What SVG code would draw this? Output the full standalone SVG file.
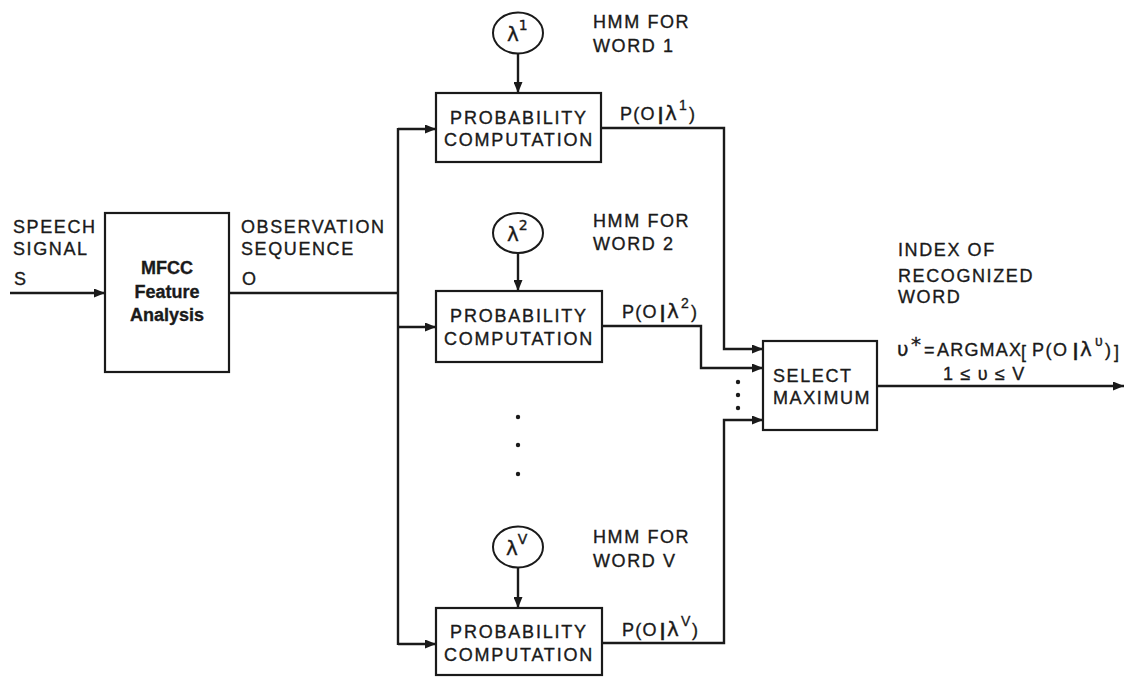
<svg xmlns="http://www.w3.org/2000/svg" width="1125" height="677" viewBox="0 0 1125 677">
  <defs>
    <marker id="arrow" viewBox="0 0 11 9" refX="11" refY="4.5" markerWidth="11" markerHeight="9" markerUnits="userSpaceOnUse" orient="auto">
      <path d="M0,0 L11,4.5 L0,9 z" fill="#1a1a1a"/>
    </marker>
    <style>
      .box { fill: #fff; stroke: #1a1a1a; stroke-width: 2.2; }
      .model { fill: #fff; stroke: #1a1a1a; stroke-width: 2; }
      .wire { fill: none; stroke: #1a1a1a; stroke-width: 2.4; }
      text { stroke: #1a1a1a; stroke-width: 0.35; }
      .lbl { font-family: "Liberation Sans", Arial, sans-serif; font-size: 18px; fill: #1a1a1a; letter-spacing: 1.6px; }
      .boxtxt { font-family: "Liberation Sans", Arial, sans-serif; font-size: 18px; fill: #1a1a1a; letter-spacing: 1.8px; text-anchor: middle; }
      .bold { font-family: "Liberation Sans", Arial, sans-serif; font-size: 18px; font-weight: bold; fill: #1a1a1a; text-anchor: middle; }
      .prob { font-family: "Liberation Sans", Arial, sans-serif; font-size: 18px; fill: #1a1a1a; letter-spacing: 1.2px; }
      .lam { font-family: "DejaVu Sans", "Liberation Sans", sans-serif; font-size: 20px; fill: #1a1a1a; letter-spacing: 0; }
      .sup { font-size: 14px; }
      .dot { fill: #1a1a1a; }
    </style>
  </defs>
  <rect width="1125" height="677" fill="#fff"/>

  <!-- connectors -->
  <g id="connectors">
    <path class="wire" d="M10,293 H105" marker-end="url(#arrow)"/>
    <path class="wire" d="M229,293 H398"/>
    <path class="wire" d="M398,128 V645"/>
    <path class="wire" d="M398,129 H436" marker-end="url(#arrow)"/>
    <path class="wire" d="M398,327 H436" marker-end="url(#arrow)"/>
    <path class="wire" d="M398,644 H436" marker-end="url(#arrow)"/>
    <path class="wire" d="M518,54 V93" marker-end="url(#arrow)"/>
    <path class="wire" d="M518,253 V291" marker-end="url(#arrow)"/>
    <path class="wire" d="M518,568 V608" marker-end="url(#arrow)"/>
    <path class="wire" d="M601,128 H724 V349 H763" marker-end="url(#arrow)"/>
    <path class="wire" d="M602,326 H701 V368 H763" marker-end="url(#arrow)"/>
    <path class="wire" d="M602,643 H724 V420 H763" marker-end="url(#arrow)"/>
    <path class="wire" d="M877,386 H1124" marker-end="url(#arrow)"/>
  </g>

  <!-- input labels -->
  <g id="speech-signal">
    <text class="lbl" x="13" y="233">SPEECH</text>
    <text class="lbl" x="13" y="255">SIGNAL</text>
    <text class="lbl" x="14" y="285">S</text>
  </g>

  <g id="mfcc">
    <rect class="box" x="105" y="213" width="124" height="159"/>
    <text class="bold" x="167" y="274">MFCC</text>
    <text class="bold" x="167" y="298">Feature</text>
    <text class="bold" x="167" y="321">Analysis</text>
  </g>

  <g id="observation">
    <text class="lbl" x="241" y="233">OBSERVATION</text>
    <text class="lbl" x="241" y="255">SEQUENCE</text>
    <text class="lbl" x="242" y="285">O</text>
  </g>

  <!-- word 1 -->
  <g id="model-1">
    <ellipse class="model" cx="518" cy="33" rx="25" ry="20.5"/>
    <text class="lam" x="507" y="41" font-size="22">λ<tspan class="sup" dy="-11">1</tspan></text>
    <text class="lbl" x="593" y="28">HMM FOR</text>
    <text class="lbl" x="593" y="52">WORD 1</text>
  </g>
  <g id="prob-1">
    <rect class="box" x="436" y="93" width="165" height="69"/>
    <text class="boxtxt" x="519" y="124">PROBABILITY</text>
    <text class="boxtxt" x="519" y="146">COMPUTATION</text>
    <text class="prob" y="120"><tspan x="620">P(O</tspan><tspan x="658" font-weight="bold">|</tspan><tspan class="lam" x="665">λ</tspan><tspan class="sup" x="679" dy="-10">1</tspan><tspan x="689" dy="10">)</tspan></text>
  </g>

  <!-- word 2 -->
  <g id="model-2">
    <ellipse class="model" cx="518" cy="233" rx="25" ry="20"/>
    <text class="lam" x="507" y="241" font-size="22">λ<tspan class="sup" dy="-11">2</tspan></text>
    <text class="lbl" x="593" y="227">HMM FOR</text>
    <text class="lbl" x="593" y="250">WORD 2</text>
  </g>
  <g id="prob-2">
    <rect class="box" x="436" y="291" width="166" height="71"/>
    <text class="boxtxt" x="519" y="322">PROBABILITY</text>
    <text class="boxtxt" x="519" y="345">COMPUTATION</text>
    <text class="prob" y="318"><tspan x="622">P(O</tspan><tspan x="660" font-weight="bold">|</tspan><tspan class="lam" x="667">λ</tspan><tspan class="sup" x="681" dy="-10">2</tspan><tspan x="691" dy="10">)</tspan></text>
  </g>

  <!-- elided models -->
  <g id="ellipsis">
    <circle class="dot" cx="518" cy="417" r="2.2"/>
    <circle class="dot" cx="518" cy="445" r="2.2"/>
    <circle class="dot" cx="518" cy="474" r="2.2"/>
    <circle class="dot" cx="738" cy="382" r="2.2"/>
    <circle class="dot" cx="738" cy="395" r="2.2"/>
    <circle class="dot" cx="738" cy="408" r="2.2"/>
  </g>

  <!-- word V -->
  <g id="model-v">
    <ellipse class="model" cx="518" cy="547" rx="25" ry="20.5"/>
    <text class="lam" x="506" y="555" font-size="22">λ<tspan class="sup" dy="-11">V</tspan></text>
    <text class="lbl" x="593" y="543">HMM FOR</text>
    <text class="lbl" x="593" y="567">WORD V</text>
  </g>
  <g id="prob-v">
    <rect class="box" x="436" y="608" width="166" height="67"/>
    <text class="boxtxt" x="519" y="638">PROBABILITY</text>
    <text class="boxtxt" x="519" y="661">COMPUTATION</text>
    <text class="prob" y="636"><tspan x="622">P(O</tspan><tspan x="660" font-weight="bold">|</tspan><tspan class="lam" x="667">λ</tspan><tspan class="sup" x="681" dy="-10">V</tspan><tspan x="692" dy="10">)</tspan></text>
  </g>

  <!-- decision -->
  <g id="select-max">
    <rect class="box" x="763" y="341" width="114" height="89"/>
    <text class="lbl" x="773" y="382">SELECT</text>
    <text class="lbl" x="773" y="404">MAXIMUM</text>
  </g>

  <g id="result">
    <text class="lbl" x="898" y="256">INDEX OF</text>
    <text class="lbl" x="898" y="282">RECOGNIZED</text>
    <text class="lbl" x="898" y="303">WORD</text>
    <text class="lam" x="897" y="356" font-size="25">υ</text>
    <text class="lam" x="911" y="351" font-size="22">*</text>
    <text class="prob" x="924" y="356" font-size="14">=</text>
    <text class="prob" x="937" y="356" font-size="18" letter-spacing="0">ARGMAX</text>
    <text class="prob" x="1021" y="358" font-size="28" letter-spacing="0">[</text>
    <text class="prob" y="356" font-size="20"><tspan x="1032" letter-spacing="1.5">P(O</tspan><tspan x="1073" font-weight="bold">|</tspan><tspan class="lam" x="1080">λ</tspan><tspan class="sup" x="1095" dy="-10">υ</tspan><tspan x="1105" dy="10">)</tspan></text>
    <text class="prob" x="1114" y="358" font-size="28" letter-spacing="0">]</text>
    <text class="prob" x="943" y="380" font-size="17">1 ≤ υ ≤ V</text>
  </g>
</svg>
